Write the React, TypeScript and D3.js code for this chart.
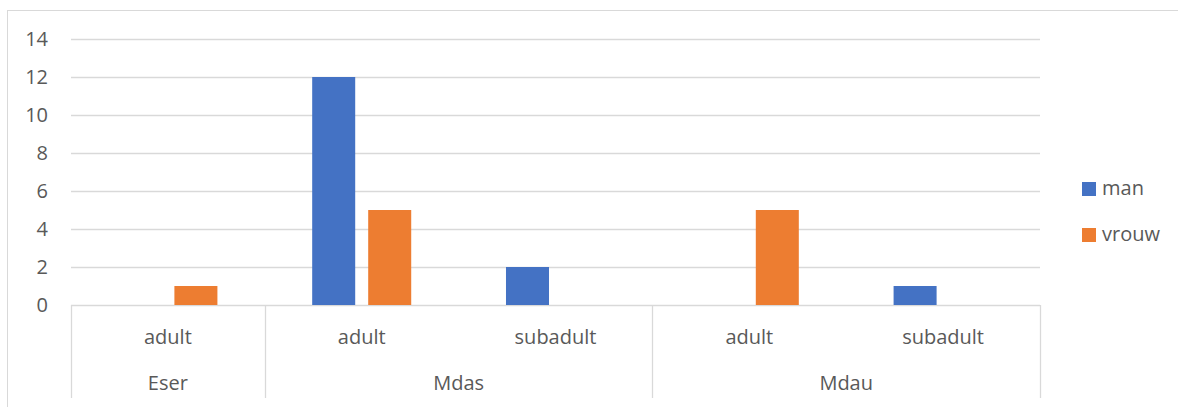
import React from "react";
import * as d3 from "d3";

// Two-level category axis: group (species) and age class
const groups = ["Eser", "Mdas", "Mdau"];
const groupOfCategory = ["Eser", "Mdas", "Mdas", "Mdau", "Mdau"];
const ageClasses = ["adult", "adult", "subadult", "adult", "subadult"];

const series = ["man", "vrouw"];
const manValues: (number | null)[] = [null, 12, 2, null, 1];
const vrouwValues: (number | null)[] = [1, 5, null, 5, null];

const yTicks = [0, 2, 4, 6, 8, 10, 12, 14];

const W = 1178;
const H = 407;
const plot = { left: 71, right: 1040, top: 39, bottom: 305 };
const colors: Record<string, string> = { man: "#4472C4", vrouw: "#ED7D31" };
const gridColor = "#D9D9D9";
const textColor = "#595959";
const font = "'Open Sans', 'Noto Sans', sans-serif";

export default function App() {
  const catIdx = ageClasses.map((_, i) => String(i));
  const x0 = d3
    .scaleBand<string>()
    .domain(catIdx)
    .range([plot.left, plot.right])
    .paddingInner(0)
    .paddingOuter(0);
  const x1 = d3
    .scaleBand<string>()
    .domain(series)
    .range([0, x0.bandwidth()])
    .paddingInner(0.232)
    .paddingOuter(0.846);
  const y = d3.scaleLinear().domain([0, 14]).range([plot.bottom, plot.top]);

  const valuesBySeries: Record<string, (number | null)[]> = {
    man: manValues,
    vrouw: vrouwValues,
  };

  // group extents along the category axis
  const groupSpans = groups.map((g) => {
    const idx = groupOfCategory
      .map((gg, i) => (gg === g ? i : -1))
      .filter((i) => i >= 0);
    const start = x0(String(idx[0]))!;
    const end = x0(String(idx[idx.length - 1]))! + x0.bandwidth();
    return { g, start, end };
  });
  const boundaries = Array.from(
    new Set([plot.left, ...groupSpans.map((s) => s.end)])
  );

  const axisBottom = 398;

  return (
    <svg
      width={W}
      height={H}
      style={{ position: "absolute", left: 0, top: 0, background: "#fff" }}
    >
      <rect x={7.5} y={10.5} width={W + 10} height={H + 10} fill="#fff" stroke={gridColor} strokeWidth={1} />

      {/* gridlines */}
      {yTicks.map((t) => (
        <line
          key={"g" + t}
          x1={plot.left}
          x2={plot.right}
          y1={Math.round(y(t)) + 0.5}
          y2={Math.round(y(t)) + 0.5}
          stroke={gridColor}
          strokeWidth={1.3}
        />
      ))}

      {/* y tick labels */}
      {yTicks.map((t) => (
        <text
          key={"t" + t}
          x={48}
          y={y(t)}
          dy="0.35em"
          textAnchor="end"
          fontFamily={font}
          fontSize={20}
          fill={textColor}
        >
          {t}
        </text>
      ))}

      {/* bars */}
      {series.map((s) =>
        valuesBySeries[s].map((v, i) =>
          v == null ? null : (
            <rect
              key={s + i}
              x={x0(String(i))! + x1(s)!}
              y={y(v)}
              width={x1.bandwidth()}
              height={y(0) - y(v)}
              fill={colors[s]}
            />
          )
        )
      )}

      {/* category axis dividers */}
      {boundaries.map((b) => (
        <line
          key={"b" + b}
          x1={Math.round(b) + 0.5}
          x2={Math.round(b) + 0.5}
          y1={plot.bottom}
          y2={axisBottom}
          stroke={gridColor}
          strokeWidth={1.3}
        />
      ))}

      {/* age class labels */}
      {ageClasses.map((a, i) => (
        <text
          key={"a" + i}
          x={x0(String(i))! + x0.bandwidth() / 2}
          y={344}
          textAnchor="middle"
          fontFamily={font}
          fontSize={20}
          fill={textColor}
        >
          {a}
        </text>
      ))}

      {/* group labels */}
      {groupSpans.map((s) => (
        <text
          key={"s" + s.g}
          x={(s.start + s.end) / 2}
          y={390}
          textAnchor="middle"
          fontFamily={font}
          fontSize={20}
          fill={textColor}
        >
          {s.g}
        </text>
      ))}

      {/* legend */}
      {series.map((s, i) => (
        <g key={"l" + s} transform={`translate(1082, ${182 + i * 46})`}>
          <rect x={0} y={0} width={14} height={14} fill={colors[s]} />
          <text
            x={20}
            y={13}
            fontFamily={font}
            fontSize={20}
            fill={textColor}
          >
            {s}
          </text>
        </g>
      ))}
    </svg>
  );
}
